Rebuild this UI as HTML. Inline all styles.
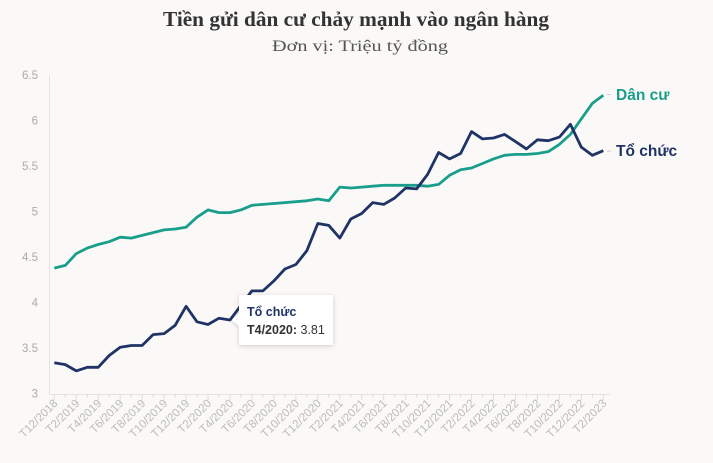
<!DOCTYPE html>
<html><head><meta charset="utf-8"><style>
body{margin:0;background:#faf9f7;}
svg{display:block;font-family:"Liberation Sans",sans-serif;}
</style></head><body>
<svg id="s" width="713" height="463" xmlns="http://www.w3.org/2000/svg">
<rect width="713" height="463" fill="#faf9f7"/>
<text x="356" y="26" text-anchor="middle" font-family="Liberation Serif,serif" font-weight="bold" font-size="21" fill="#333" textLength="386" lengthAdjust="spacingAndGlyphs">Tiền gửi dân cư chảy mạnh vào ngân hàng</text>
<text x="360" y="51" text-anchor="middle" font-family="Liberation Serif,serif" font-size="16" fill="#555" textLength="176" lengthAdjust="spacingAndGlyphs">Đơn vị: Triệu tỷ đồng</text>
<g id="g"></g>
</svg>
<script>
var g=document.getElementById('g'),h='';
function X(i){return 54.3+i*10.98;}
function Y(v){return 393.7-(v-3)*91;}
h+='<line x1="49.5" y1="75" x2="49.5" y2="394" stroke="#e6e3df"/>';
h+='<line x1="49.5" y1="394.5" x2="610" y2="394.5" stroke="#e6e3df"/>';
for(var k=0;k<=7;k++){var v=3+k*0.5;h+='<text x="38" y="'+(Y(v)+4)+'" text-anchor="end" font-size="11.5" fill="#aaa">'+v+'</text>';}
for(var i=0;i<=50;i++){h+='<line x1="'+X(i)+'" y1="394" x2="'+X(i)+'" y2="'+(i%2==0?400:398)+'" stroke="#e0ddd8"/>';}
var lab=['T12/2018','T2/2019','T4/2019','T6/2019','T8/2019','T10/2019','T12/2019','T2/2020','T4/2020','T6/2020','T8/2020','T10/2020','T12/2020','T2/2021','T4/2021','T6/2021','T8/2021','T10/2021','T12/2021','T2/2022','T4/2022','T6/2022','T8/2022','T10/2022','T12/2022','T2/2023'];
for(var j=0;j<lab.length;j++){var x=X(j*2)+4,y=404;h+='<text transform="translate('+x+','+y+') rotate(-45)" text-anchor="end" font-size="11.5" fill="#bbb">'+lab[j]+'</text>';}
var dan=[4.38,4.41,4.54,4.60,4.64,4.67,4.72,4.71,4.74,4.77,4.80,4.81,4.83,4.94,5.02,4.99,4.99,5.02,5.07,5.08,5.09,5.10,5.11,5.12,5.14,5.12,5.27,5.26,5.27,5.28,5.29,5.29,5.29,5.29,5.28,5.30,5.40,5.46,5.48,5.53,5.58,5.62,5.63,5.63,5.64,5.66,5.74,5.85,6.02,6.19,6.28];
var to=[3.34,3.32,3.25,3.29,3.29,3.42,3.51,3.53,3.53,3.65,3.66,3.75,3.96,3.79,3.76,3.83,3.81,3.97,4.13,4.13,4.24,4.37,4.42,4.57,4.87,4.85,4.71,4.92,4.98,5.04,5.10,5.08,5.15,5.26,5.25,5.41,5.65,5.58,5.64,5.88,5.80,5.81,5.85,5.77,5.69,5.79,5.78,5.82,5.96,5.71,5.62,5.67];
to.splice(29,1);
function pl(a,c){var p=a.map(function(v,i){return X(i).toFixed(1)+','+Y(v).toFixed(1)}).join(' ');return '<polyline points="'+p+'" fill="none" stroke="'+c+'" stroke-width="2.8" stroke-linejoin="round"/>';}
h+=pl(dan,'#1a9e8c');h+=pl(to,'#1f3366');
h+='<line x1="607" y1="94.5" x2="611" y2="94.5" stroke="#ccc"/><text x="616" y="100" font-size="15.5" font-weight="bold" fill="#1a9e8c">Dân cư</text>';
h+='<line x1="607" y1="151" x2="611" y2="151" stroke="#ccc"/><text x="616" y="156" font-size="15.5" font-weight="bold" fill="#1f3366">Tổ chức</text>';
h+='<defs><filter id="sh" x="-20%" y="-20%" width="140%" height="150%"><feDropShadow dx="0" dy="1" stdDeviation="2" flood-color="#000" flood-opacity="0.18"/></filter></defs>';
h+='<g filter="url(#sh)"><path d="M239,295 H333 V345 H239 V326 L232,320 L239,314 Z" fill="#fff"/></g>';
h+='<text x="247" y="316" font-size="12.5" font-weight="bold" fill="#1f3366">Tổ chức</text>';
h+='<text x="247" y="334" font-size="12.5" fill="#333"><tspan font-weight="bold">T4/2020:</tspan> 3.81</text>';
g.innerHTML=h;
</script>
</body></html>
